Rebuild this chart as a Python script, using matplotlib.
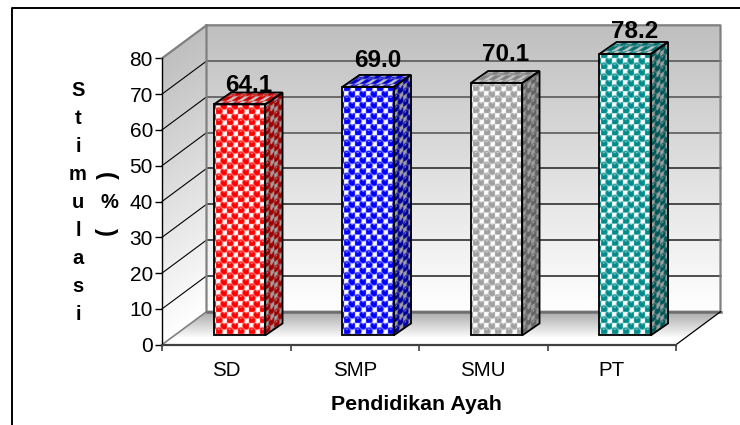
import numpy as np
import matplotlib
matplotlib.use('Agg')
import matplotlib.pyplot as plt
from matplotlib.lines import Line2D
from matplotlib.patches import Polygon
from matplotlib.transforms import Affine2D

plt.rcParams['font.family'] = ['Liberation Sans', 'DejaVu Sans']

categories = ['SD', 'SMP', 'SMU', 'PT']
values = [64.1, 69.0, 70.1, 78.2]
bar_colors = ['#ff0000', '#0000ff', '#a0a0a0', '#008b8b']
yticks = [0, 10, 20, 30, 40, 50, 60, 70, 80]

W, H = 740, 425
fig = plt.figure(figsize=(W / 100, H / 100), dpi=100)
ax = fig.add_axes([162 / W, 1 - 344.7 / H, (676 - 162) / W, (344.7 - 58.3) / H])
ax.patch.set_visible(False)

# depth of the oblique box, in data units
sx = (676 - 162) / 4
sy = (344.7 - 58.3) / 80
DX = 44.5 / sx
DY = 33.0 / sy
BAR_W = 51.5 / sx
BAR_OFF = 0.603 - BAR_W / 2   # front left corner of bar inside a category
BASE = 2.6
BAR_DX = 17.3 / sx
BAR_DY = 12.0 / sy


def face(img, origin, u, v, z):
    # map a unit square image onto a parallelogram in data coords
    m = Affine2D(np.array([[u[0], v[0], origin[0]],
                           [u[1], v[1], origin[1]],
                           [0, 0, 1]], dtype=float))
    im = ax.imshow(img, extent=(0, 1, 0, 1), origin='lower', aspect='auto',
                   transform=m + ax.transData, zorder=z,
                   interpolation='bilinear')
    # the corners outside the sheared image would come out black
    ox, oy = origin
    corners = [(ox, oy), (ox + u[0], oy + u[1]),
               (ox + u[0] + v[0], oy + u[1] + v[1]), (ox + v[0], oy + v[1])]
    clip = Polygon(corners, closed=True, transform=ax.transData)
    im.set_clip_path(clip)
    im.set_clip_box(fig.bbox)
    return im


def rgb(c):
    return np.array(matplotlib.colors.to_rgb(c))


def texture(color, bg, w_px, h_px, px=11.0, py=11.0, x0=0.0, y0=0.0):
    # ball pattern: staggered dots with a pale ring and a small highlight
    ss = 6
    nx, ny = max(int(round(w_px)), 2) * ss, max(int(round(h_px)), 2) * ss
    xx, yy = np.meshgrid((np.arange(nx) + .5) / ss, (np.arange(ny) + .5) / ss)
    u = ((xx - x0) / px) % 1
    v = ((yy - y0) / py) % 1
    img = np.ones((ny, nx, 3)) * rgb(bg)
    color = rgb(color)
    pale = color * 0.35 + rgb(bg) * 0.65
    for cu, cv in [(.25, .25), (.75, .75)]:
        du, dv = (u - cu), (v - cv)
        r = np.hypot(du, dv)
        img[r < .40] = pale
        img[r < .33] = color
        hl = np.hypot((du) / 2.2, (dv - .18)) < .05
        img[hl] = color * 0.3 + 0.7
    # box average down to two texels per pixel
    k = ss // 2
    return img.reshape(ny // k, k, nx // k, k, 3).mean(axis=(1, 3))


# walls and floor
grad = np.linspace(0, 1, 200)[:, None, None]
wall_top = 0.75
wall = (1 - grad * (1 - wall_top)) * np.ones((200, 2, 3))
face(wall, (DX, DY), (4, 0), (0, 80), 1)
face(wall, (0, 0), (DX, DY), (0, 80), 1)
floor_grad = np.clip((grad - 0.2) * 1.25, 0, 1)
floor = (1 - floor_grad * 0.33) * np.ones((200, 2, 3))
face(floor, (0, 0), (4, 0), (DX, DY), 1)

# gridlines on back and side wall
for t in yticks[1:-1]:
    ax.plot([DX, 4 + DX], [t + DY, t + DY],
            color='#202020' if t < 50 else '#505050', lw=1.1, zorder=2,
            clip_on=False)
for t in yticks[1:-1]:
    ax.plot([0, DX], [t, t + DY], color='#000000', lw=0.8, zorder=2, clip_on=False)

edge = '#808080'
ax.plot([0, DX, 4 + DX, 4 + DX, DX, DX], [80, 80 + DY, 80 + DY, DY, DY, 80 + DY],
        color=edge, lw=1.6, zorder=2, clip_on=False)
ax.plot([0, DX], [0, DY], color=edge, lw=1.2, zorder=2, clip_on=False)
ax.plot([DX, 4 + DX], [DY, DY], color='#6e6e6e', lw=1.8, zorder=2, clip_on=False)
ax.plot([4, 4 + DX], [0, DY], color='#000000', lw=0.9, zorder=2, clip_on=False)

# bars
for i, (val, col) in enumerate(zip(values, bar_colors)):
    x0 = i + BAR_OFF
    x1 = x0 + BAR_W
    top = val + BASE + 0.4
    h_px = (top - BASE) * sy
    col_rgb = rgb(col)
    dark = col_rgb * 0.62
    face(texture(col, '#ffffff', 51.5, h_px, x0=2.0, y0=1.0),
         (x0, BASE), (BAR_W, 0), (0, top - BASE), 3 + i)
    face(texture(dark, '#a0a0a0', 17.3, h_px, px=8.6, py=11.0, y0=1.0),
         (x1, BASE), (BAR_DX, BAR_DY), (0, top - BASE), 3 + i)
    face(texture(col_rgb * 0.8, '#c8c8c8', 51.5, 12, px=11.0, py=12.0, x0=2.0, y0=3.0),
         (x0, top), (BAR_W, 0), (BAR_DX, BAR_DY), 3 + i)
    # outline of the box
    outlines = [[(x0, BASE), (x1, BASE), (x1, top), (x0, top)],
                [(x1, BASE), (x1 + BAR_DX, BASE + BAR_DY), (x1 + BAR_DX, top + BAR_DY), (x1, top)],
                [(x0, top), (x1, top), (x1 + BAR_DX, top + BAR_DY), (x0 + BAR_DX, top + BAR_DY)]]
    for pts in outlines:
        ax.add_patch(Polygon(pts, closed=True, fill=False, ec='#000000', lw=1.3,
                             zorder=3.5 + i, clip_on=False))

# value labels sit a bit right of the bar centre, above the back top edge
label_lift = [0.2, 2.2, 2.9, 1.1]
for i, val in enumerate(values):
    top = val + BASE + 0.4
    ax.text(i + BAR_OFF + BAR_W / 2 + 9.5 / sx, top + BAR_DY + label_lift[i],
            '%.1f' % val, ha='center', va='baseline', fontsize=17.5,
            fontweight='bold', color='#000000', zorder=20, clip_on=False)

ax.set_xlim(0, 4)
ax.set_ylim(0, 80)
ax.set_yticks(yticks)
ax.set_xticks(range(5))
ax.set_xticklabels([])
ax.set_xticks(np.arange(4) + 0.5, categories, minor=True)
ax.tick_params(axis='x', which='minor', length=0, labelsize=14.8, pad=12)
ax.tick_params(axis='x', which='major', length=4.5, width=1.2, color='#404040')
ax.tick_params(axis='y', length=5, width=1.0, labelsize=15, pad=1.5, color='#000000')
for s in ['top', 'right']:
    ax.spines[s].set_visible(False)
ax.spines['left'].set_linewidth(1.0)
ax.spines['left'].set_zorder(15)
ax.spines['bottom'].set_linewidth(1.6)
ax.spines['bottom'].set_color('#404040')
ax.spines['bottom'].set_zorder(15)

# axis titles
fig.text(416 / W, 1 - 405 / H, 'Pendidikan Ayah', ha='center', va='center',
         fontsize=15.4, fontweight='bold')
fig.text(78 / W, 1 - 203 / H, 'S\nt\ni\nm\nu\nl\na\ns\ni', ha='center', va='center',
         ma='center', fontsize=14.5, fontweight='bold', linespacing=1.6)
fig.text(109 / W, 1 - 203 / H, '%', ha='center', va='center', fontsize=14.5, fontweight='bold')
fig.text(105.5 / W, 1 - 176 / H, '(', ha='center', va='center', rotation=-90,
         fontsize=17, fontweight='bold')
fig.text(105.5 / W, 1 - 232 / H, ')', ha='center', va='center', rotation=-90,
         fontsize=17, fontweight='bold')

# outer chart frame, cut off by the picture on the right and bottom
fig.add_artist(Line2D([11.5 / W, 11.5 / W, 1], [0, 1 - 7.5 / H, 1 - 7.5 / H],
                      color='#000000', lw=1.4))

fig.savefig('out.png', dpi=100)
